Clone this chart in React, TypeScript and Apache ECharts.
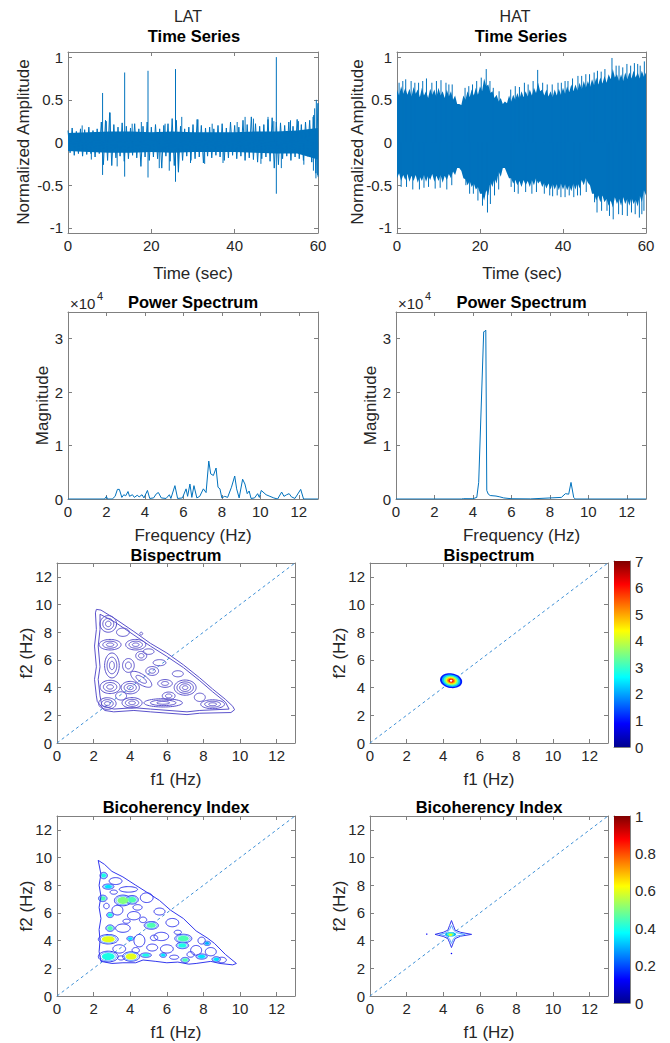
import React, { useEffect, useRef } from "react";
import * as echarts from "echarts";

const FONT = '"Liberation Sans", Arial, Helvetica, sans-serif';
const BLUE = "#0072BD";
const AXC = "#808080";
const TXT = "#262626";

// ---------- tick labels ----------
const TIME_TICKS = [0, 20, 40, 60];
const AMP_TICKS = [-1, -0.5, 0, 0.5, 1];
const FREQ_TICKS = [0, 2, 4, 6, 8, 10, 12];
const MAG_TICKS = [0, 10000, 20000, 30000];
const BIS_BAR_TICKS = [0, 1, 2, 3, 4, 5, 6, 7];
const BIC_BAR_TICKS = [0, 0.2, 0.4, 0.6, 0.8, 1];

// ---------- time series (seconds) ----------
const TS_T = [0,1,2,3,4,5,6,7,8,9,10,11,12,13,14,15,16,17,18,19,20,21,22,23,24,25,26,27,28,29,30,31,32,33,34,35,36,37,38,39,40,41,42,43,44,45,46,47,48,49,50,51,52,53,54,55,56,57,58,59,60];
const LAT_UP = [0.14,0.17,0.13,0.16,0.15,0.18,0.14,0.16,0.24,0.26,0.35,0.21,0.18,0.23,0.19,0.17,0.22,0.16,0.19,0.24,0.18,0.21,0.16,0.2,0.22,0.28,0.26,0.19,0.16,0.18,0.21,0.27,0.2,0.17,0.18,0.16,0.2,0.22,0.17,0.24,0.2,0.18,0.26,0.21,0.3,0.22,0.19,0.21,0.27,0.29,0.24,0.23,0.2,0.24,0.19,0.27,0.21,0.24,0.26,0.32,0.46];
const LAT_LO = [-0.12,-0.15,-0.13,-0.16,-0.14,-0.13,-0.17,-0.13,-0.26,-0.21,-0.27,-0.18,-0.16,-0.22,-0.19,-0.15,-0.18,-0.28,-0.17,-0.21,-0.17,-0.19,-0.3,-0.16,-0.22,-0.27,-0.34,-0.21,-0.16,-0.21,-0.19,-0.17,-0.24,-0.16,-0.18,-0.15,-0.17,-0.21,-0.18,-0.15,-0.19,-0.16,-0.21,-0.18,-0.2,-0.23,-0.19,-0.17,-0.22,-0.3,-0.26,-0.19,-0.16,-0.21,-0.17,-0.19,-0.21,-0.16,-0.23,-0.36,-0.4];
const LAT_CORE_T = [0,5,10,15,20,25,30,35,40,45,50,55,60];
const LAT_CORE_UP = [0.11,0.12,0.13,0.13,0.12,0.13,0.12,0.12,0.12,0.13,0.13,0.14,0.17];
const LAT_CORE_LO = [-0.1,-0.11,-0.12,-0.12,-0.11,-0.12,-0.11,-0.11,-0.11,-0.12,-0.13,-0.13,-0.2];
const LAT_SPIKES = [[8.3,0.58],[8.3,-0.38],[13.6,0.82],[13.6,-0.4],[19.2,0.84],[19.2,-0.41],[25.8,0.86],[25.8,-0.46],[50.0,1.0],[50.0,-0.6],[10.1,0.35],[9.2,0.25],[11.8,-0.28],[21.9,-0.3],[24.3,-0.33],[26.5,-0.35],[27.3,0.3],[31.2,0.27],[32.8,-0.25],[42.5,0.3],[44.5,0.28],[48.0,0.3],[49.4,0.25],[51.2,-0.3],[55.3,0.25],[58.8,0.3],[58.9,-0.33],[59.2,0.4],[59.5,-0.42],[59.6,0.5],[59.9,-0.38],[3.4,0.2],[5.6,-0.2],[15.4,0.22],[17.6,0.24],[23.3,0.22],[29.4,-0.24],[34.6,0.22],[37.2,-0.24],[40.6,0.24],[46.3,-0.25],[53.4,0.26],[56.6,-0.26]];

const HAT_UP = [0.62,0.66,0.64,0.63,0.65,0.62,0.64,0.6,0.63,0.62,0.64,0.6,0.62,0.6,0.55,0.45,0.55,0.6,0.62,0.64,0.66,0.75,0.68,0.6,0.56,0.52,0.48,0.55,0.56,0.58,0.6,0.6,0.62,0.64,0.7,0.62,0.62,0.6,0.62,0.63,0.64,0.66,0.68,0.68,0.7,0.72,0.72,0.74,0.76,0.76,0.78,0.8,0.86,0.8,0.8,0.82,0.82,0.84,0.82,0.84,0.82];
const HAT_UP_MID = [0.55,0.57,0.56,0.54,0.57,0.53,0.55,0.52,0.56,0.53,0.55,0.52,0.54,0.5,0.45,0.44,0.5,0.53,0.55,0.56,0.6,0.66,0.58,0.52,0.48,0.45,0.46,0.48,0.5,0.51,0.53,0.54,0.55,0.58,0.6,0.55,0.54,0.53,0.55,0.56,0.57,0.59,0.6,0.61,0.62,0.64,0.65,0.67,0.68,0.69,0.7,0.74,0.76,0.72,0.72,0.74,0.75,0.76,0.75,0.77];
const HAT_LO = [-0.42,-0.45,-0.44,-0.46,-0.45,-0.47,-0.45,-0.46,-0.44,-0.46,-0.45,-0.47,-0.44,-0.42,-0.38,-0.3,-0.42,-0.5,-0.52,-0.55,-0.6,-0.68,-0.62,-0.52,-0.48,-0.4,-0.3,-0.42,-0.48,-0.5,-0.52,-0.5,-0.52,-0.5,-0.48,-0.52,-0.54,-0.55,-0.55,-0.56,-0.55,-0.56,-0.57,-0.55,-0.54,-0.5,-0.47,-0.6,-0.68,-0.7,-0.7,-0.74,-0.76,-0.72,-0.74,-0.72,-0.74,-0.72,-0.75,-0.7,-0.62];
const HAT_LO_MID = [-0.36,-0.38,-0.37,-0.39,-0.38,-0.4,-0.38,-0.39,-0.37,-0.39,-0.38,-0.39,-0.37,-0.34,-0.3,-0.33,-0.43,-0.45,-0.48,-0.52,-0.6,-0.56,-0.46,-0.42,-0.34,-0.3,-0.36,-0.42,-0.44,-0.45,-0.44,-0.45,-0.44,-0.42,-0.45,-0.47,-0.48,-0.48,-0.49,-0.48,-0.49,-0.5,-0.48,-0.47,-0.44,-0.42,-0.5,-0.6,-0.62,-0.62,-0.66,-0.68,-0.64,-0.66,-0.64,-0.66,-0.64,-0.67,-0.62,-0.56];
const HAT_SPIKES = [[0.5,0.7],[1.4,0.72],[2.1,0.74],[3.4,0.72],[4.3,0.7],[5.2,0.7],[6.2,0.72],[7.1,0.75],[8.4,0.7],[9.5,0.72],[10.6,0.73],[11.8,0.7],[12.5,0.68],[13.3,0.68],[16.4,0.64],[17.3,0.66],[18.2,0.68],[19.2,0.72],[20.3,0.76],[21.5,0.86],[22.4,0.72],[23.2,0.64],[24.6,0.6],[27.4,0.62],[28.5,0.66],[29.5,0.65],[30.7,0.7],[31.6,0.68],[32.8,0.72],[33.9,0.85],[35.1,0.7],[36.2,0.68],[37.4,0.68],[38.8,0.7],[39.6,0.7],[40.5,0.72],[41.2,0.72],[42.3,0.75],[43.6,0.78],[44.5,0.78],[45.5,0.8],[46.4,0.8],[47.5,0.82],[48.3,0.84],[49.2,0.83],[50.1,0.86],[51.8,0.99],[52.8,0.9],[53.5,0.9],[54.4,0.88],[55.4,0.92],[56.3,0.9],[57.2,0.93],[58.0,0.92],[58.6,0.9],[59.6,0.95],[1.0,-0.52],[2.3,-0.52],[3.8,-0.55],[5.4,-0.55],[6.5,-0.53],[7.6,-0.52],[9.2,-0.54],[10.4,-0.53],[12.0,-0.55],[13.2,-0.5],[16.6,-0.5],[17.5,-0.6],[18.4,-0.6],[19.5,-0.68],[20.6,-0.74],[21.8,-0.82],[22.5,-0.72],[23.5,-0.62],[24.5,-0.55],[27.5,-0.52],[28.3,-0.58],[29.2,-0.6],[31.0,-0.58],[32.5,-0.6],[33.6,-0.58],[35.5,-0.6],[36.8,-0.62],[37.5,-0.63],[38.6,-0.62],[39.5,-0.64],[40.5,-0.64],[41.5,-0.62],[42.6,-0.64],[43.5,-0.62],[44.2,-0.62],[45.6,-0.58],[47.6,-0.7],[48.2,-0.82],[49.3,-0.8],[50.6,-0.8],[51.2,-0.86],[52.1,-0.9],[53.4,-0.84],[54.3,-0.85],[55.5,-0.86],[56.5,-0.82],[57.4,-0.84],[58.4,-0.88],[59.0,-0.84],[59.5,-0.8]];

// ---------- power spectra ----------
const LAT_FREQ = [0,1.9,2.0,2.05,2.3,2.45,2.57,2.67,2.8,2.9,3.0,3.12,3.2,3.35,3.45,3.6,3.7,3.85,3.95,4.13,4.25,4.45,4.6,4.7,4.85,5.1,5.27,5.35,5.56,5.7,5.95,6.14,6.22,6.34,6.44,6.55,6.7,6.85,7.04,7.18,7.32,7.42,7.56,7.7,7.8,7.9,8.0,8.15,8.3,8.5,8.67,8.77,8.9,9.08,9.2,9.32,9.42,9.52,9.7,9.86,9.95,10.05,10.3,10.5,10.7,10.9,11.11,11.23,11.37,11.5,11.62,11.8,12.1,12.25,13];
const LAT_MAG = [0,0,500,0,0,500,1800,1800,300,800,600,1400,500,800,300,700,400,800,200,1600,100,200,1000,1200,200,100,800,100,2500,100,200,1900,500,2800,300,2500,200,500,1900,1200,7100,4700,4400,5800,2200,1900,200,500,300,2200,4300,1900,200,3700,2800,1000,1500,100,200,1000,300,1600,800,500,200,0,1300,500,800,1000,400,100,1800,0,0];
const HAT_FREQ = [0,3.4,3.5,4.0,4.2,4.3,4.56,4.62,4.67,4.72,4.8,4.9,5.2,5.4,5.6,6.0,7.0,8.6,8.81,8.98,9.1,9.24,9.32,13];
const HAT_MAG = [0,0,60,50,300,3100,31300,31400,31600,1600,900,650,550,400,200,50,20,300,1000,900,3100,300,0,0];

// ---------- bispectrum (f1, f2 in Hz) ----------
const BIS_LAT_OUTER = [[2.15,9.65],[2.4,9.6],[3.2,8.95],[4.2,8.05],[5.1,7.2],[6.0,6.5],[6.9,5.65],[7.8,4.7],[8.5,3.9],[9.2,3.15],[9.6,2.65],[9.7,2.4],[9.5,2.2],[7.8,2.15],[7.1,2.05],[5.1,2.25],[4.2,2.35],[3.1,2.25],[2.6,2.35],[2.2,3.0],[2.15,3.4],[2.05,4.6],[2.15,5.5],[2.05,7.0],[2.15,8.2],[2.1,9.4],[2.15,9.65]];
const BIS_LAT_INNER = [[2.35,9.3],[3.2,8.7],[4.2,7.8],[5.1,7.0],[6.0,6.25],[6.9,5.45],[7.8,4.5],[8.5,3.7],[9.2,2.95],[9.4,2.45],[7.8,2.35],[7.1,2.25],[5.1,2.45],[4.2,2.55],[3.1,2.45],[2.45,2.7],[2.35,3.4],[2.25,4.6],[2.35,5.5],[2.25,7.0],[2.35,8.2],[2.35,9.3]];
// [f1, f2, r1, r2, rings, angle]
const BIS_LAT_LOOPS = [[2.8,8.6,0.45,0.6,3,0],[2.9,7.1,0.6,0.38,3,0],[4.3,7.1,0.55,0.38,3,0],[2.9,4.05,0.55,0.48,3,0],[4.0,4.0,0.5,0.45,3,0],[2.75,2.85,0.48,0.42,3,0],[4.1,2.9,0.55,0.38,3,0],[7.0,4.0,0.6,0.55,4,0],[8.5,2.8,0.65,0.32,3,0],[5.2,5.2,0.35,0.32,2,0],[5.8,2.9,1.05,0.3,3,0],[4.6,4.6,0.75,0.32,2,-45],[3.0,5.6,0.4,0.9,3,0],[3.9,5.6,0.32,0.5,2,0],[4.6,6.3,0.3,0.32,2,0],[6.1,3.4,0.35,0.28,2,0],[5.9,4.3,0.4,0.28,2,0],[6.6,5.0,0.3,0.22,1,0],[5.6,5.8,0.35,0.22,1,0],[4.6,7.9,0.08,0.1,1,0],[3.6,8.0,0.35,0.3,1,0],[5.0,6.6,0.3,0.2,1,0],[7.8,3.3,0.3,0.3,1,0],[3.5,3.4,0.3,0.3,1,0]];
// [f1, f2, r1, r2, angle, level]
const BIS_HAT_RINGS = [[4.43,4.5,0.62,0.52,-25,0.15],[4.43,4.5,0.52,0.43,-25,0.3],[4.43,4.5,0.42,0.35,-25,0.45],[4.43,4.5,0.32,0.27,-25,0.6],[4.43,4.5,0.23,0.2,-25,0.72],[4.43,4.5,0.15,0.13,-25,0.86],[4.43,4.5,0.07,0.07,-25,-1]];

// ---------- bicoherency ----------
const BIC_LAT_OUTER = [[2.25,9.8],[2.6,9.5],[3.0,9.0],[3.6,8.6],[4.3,8.0],[4.9,7.5],[5.6,6.9],[6.2,6.2],[6.9,5.6],[7.6,4.7],[8.2,4.2],[8.6,3.8],[9.2,3.0],[9.8,2.35],[9.6,2.25],[8.9,2.35],[8.4,2.5],[7.6,2.35],[7.2,2.3],[6.6,2.45],[6.0,2.4],[5.4,2.5],[4.7,2.6],[4.3,2.4],[3.6,2.4],[3.0,2.35],[2.4,2.5],[2.3,3.2],[2.35,4.0],[2.3,4.8],[2.4,5.6],[2.3,6.4],[2.4,7.2],[2.3,8.0],[2.4,8.8],[2.25,9.8]];
const BIC_LAT_LOOPS = [[3.2,8.3,0.35,0.25,0,0],[3.9,7.7,0.5,0.2,0,0],[4.9,7.1,0.35,0.35,0,0],[3.3,6.2,0.3,0.35,0,0],[4.2,5.8,0.35,0.3,0,0],[5.6,6.1,0.3,0.25,0,0],[6.3,5.3,0.35,0.3,0,0],[3.6,4.9,0.4,0.3,0,0],[4.5,4.0,0.3,0.45,0,0],[5.7,4.3,0.4,0.3,0,0],[6.0,3.4,0.35,0.3,0,0],[3.4,3.4,0.35,0.3,0,0],[5.2,3.5,0.3,0.25,0,0],[7.6,3.3,0.3,0.35,0,0],[8.4,3.2,0.3,0.3,0,0],[9.0,2.6,0.25,0.2,0,0],[7.9,4.0,0.2,0.25,0,0],[3.8,5.4,0.2,0.15,0,0],[4.7,5.5,0.2,0.2,0,0],[3.1,7.5,0.2,0.15,0,0],[5.3,4.2,0.2,0.2,0,0],[6.6,4.6,0.2,0.15,0,0],[4.3,3.3,0.2,0.2,0,0],[3.5,2.75,0.2,0.15,0,0],[6.4,2.8,0.25,0.15,0,0],[7.3,3.0,0.2,0.2,0,0],[2.7,6.5,0.15,0.2,0,0],[4.4,6.4,0.25,0.2,0,0]];
const BIC_LAT_BLOBS = [[2.55,8.7,0.13,0.15,0,0.4],[2.8,7.9,0.2,0.12,0,0.35],[2.5,7.05,0.15,0.15,0,0.45],[3.6,6.9,0.3,0.25,0,0.5],[4.1,6.95,0.22,0.2,0,0.45],[2.9,5.85,0.12,0.12,0,0.4],[2.9,4.9,0.15,0.15,0,0.45],[2.8,4.1,0.35,0.22,0,0.6],[4.0,4.15,0.12,0.1,0,0.35],[2.8,2.85,0.35,0.25,0,0.4],[4.05,2.85,0.3,0.22,0,0.6],[4.85,2.95,0.2,0.1,0,0.4],[5.8,2.95,0.12,0.1,0,0.35],[5.15,5.1,0.25,0.18,0,0.45],[6.9,4.15,0.3,0.2,0,0.45],[6.85,3.65,0.22,0.15,0,0.4],[7.0,2.6,0.15,0.12,0,0.45],[7.9,2.85,0.2,0.12,0,0.35],[8.7,2.65,0.15,0.12,0,0.35],[8.2,3.8,0.12,0.1,0,0.3]];
const BIC_HAT_STAR = [[3.55,4.45],[4.0,4.6],[4.25,4.75],[4.35,5.1],[4.45,5.45],[4.55,5.1],[4.65,4.75],[4.95,4.6],[5.55,4.45],[4.95,4.32],[4.65,4.15],[4.55,3.85],[4.45,3.5],[4.35,3.85],[4.25,4.15],[4.0,4.3],[3.55,4.45]];
const BIC_HAT_STAR_IN = [[3.8,4.45],[4.2,4.58],[4.35,4.8],[4.45,5.1],[4.55,4.8],[4.7,4.58],[5.2,4.45],[4.7,4.32],[4.55,4.1],[4.45,3.8],[4.35,4.1],[4.2,4.32],[3.8,4.45]];
const BIC_HAT_BLOBS = [[4.4,4.45,0.3,0.16,0,0.3],[4.4,4.45,0.2,0.12,0,0.45],[4.4,4.42,0.1,0.08,0,0.6],[3.1,4.47,0.04,0.05,0,0.12],[4.45,3.07,0.04,0.05,0,0.12]];

const DIAG = [[0, 0], [13, 13]];

// ---------- layout ----------
const GRIDS = [
  { left: 68, top: 52, width: 250, height: 181 },
  { left: 397, top: 52, width: 249, height: 181 },
  { left: 68, top: 312, width: 250, height: 187 },
  { left: 396, top: 312, width: 250, height: 187 },
  { left: 57, top: 563, width: 238, height: 180 },
  { left: 370, top: 563, width: 238, height: 180 },
  { left: 57, top: 816, width: 238, height: 180 },
  { left: 370, top: 816, width: 238, height: 180 },
  { left: 614, top: 561, width: 16, height: 186 },
  { left: 614, top: 816, width: 16, height: 187 },
];

function jet(v: number) {
  const c = (x: number) => Math.max(0, Math.min(1, x));
  const r = c(1.5 - Math.abs(4 * v - 3));
  const g = c(1.5 - Math.abs(4 * v - 2));
  const b = c(1.5 - Math.abs(4 * v - 1));
  return `rgb(${Math.round(r * 255)},${Math.round(g * 255)},${Math.round(b * 255)})`;
}

function axis(gi: number, min: number, max: number, ticks: number[], position: string, label: boolean, fmt?: (v: number) => string, showTicks = true) {
  return {
    type: "value", gridIndex: gi, min, max, position,
    axisLine: { show: true, onZero: false, lineStyle: { color: AXC, width: 1 } },
    axisTick: { show: showTicks, inside: true, length: 4, customValues: ticks, lineStyle: { color: AXC, width: 1 } },
    axisLabel: { show: label, customValues: ticks, formatter: fmt || ((v: number) => String(v)), color: TXT, fontSize: 15, fontFamily: FONT, margin: 5 },
    splitLine: { show: false },
  };
}

function ellipseRender(mode: "fill" | "stroke", color?: string, lw = 1) {
  return (_p: any, api: any) => {
    const cx = api.value(0), cy = api.value(1), rx = api.value(2), ry = api.value(3);
    const a = (api.value(4) * Math.PI) / 180, lev = api.value(5);
    const pts: number[][] = [];
    for (let k = 0; k <= 48; k++) {
      const th = (k / 48) * 2 * Math.PI;
      const dx = rx * Math.cos(th), dy = ry * Math.sin(th);
      pts.push(api.coord([cx + dx * Math.cos(a) - dy * Math.sin(a), cy + dx * Math.sin(a) + dy * Math.cos(a)]));
    }
    const col = color || (lev < 0 ? "#ffffff" : jet(lev));
    return mode === "fill"
      ? { type: "polygon", shape: { points: pts }, style: { fill: col } }
      : { type: "polyline", shape: { points: pts }, style: { fill: "none", stroke: col, lineWidth: lw } };
  };
}

function txt(text: string, x: number, y: number, size: number, bold = false, rot = 0, align = "center") {
  return {
    type: "text", x, y, rotation: rot, silent: true,
    style: { text, font: `${bold ? "bold " : ""}${size}px ${FONT}`, fill: bold ? "#000" : TXT, textAlign: align, textVerticalAlign: "middle" },
  };
}

function buildOption() {
  const xAxis: any[] = [];
  const yAxis: any[] = [];
  const mag = (v: number) => String(v / 10000);
  const specs = [
    { x: [0, 60, TIME_TICKS], y: [-1.06, 1.06, AMP_TICKS] },
    { x: [0, 60, TIME_TICKS], y: [-1.06, 1.06, AMP_TICKS] },
    { x: [0, 13, FREQ_TICKS], y: [0, 35000, MAG_TICKS], yf: mag },
    { x: [0, 13, FREQ_TICKS], y: [0, 35000, MAG_TICKS], yf: mag },
    { x: [0, 13, FREQ_TICKS], y: [0, 13, FREQ_TICKS] },
    { x: [0, 13, FREQ_TICKS], y: [0, 13, FREQ_TICKS] },
    { x: [0, 13, FREQ_TICKS], y: [0, 13, FREQ_TICKS] },
    { x: [0, 13, FREQ_TICKS], y: [0, 13, FREQ_TICKS] },
  ];
  specs.forEach((s: any, g) => {
    xAxis.push(axis(g, s.x[0], s.x[1], s.x[2], "bottom", true));
    xAxis.push(axis(g, s.x[0], s.x[1], s.x[2], "top", false));
    yAxis.push(axis(g, s.y[0], s.y[1], s.y[2], "left", true, s.yf));
    yAxis.push(axis(g, s.y[0], s.y[1], s.y[2], "right", false));
  });
  const bars = [
    { g: 8, max: 7, ticks: BIS_BAR_TICKS },
    { g: 9, max: 1, ticks: BIC_BAR_TICKS },
  ];
  bars.forEach((b) => {
    xAxis.push(axis(b.g, 0, 1, [], "bottom", false, undefined, false));
    xAxis.push(axis(b.g, 0, 1, [], "top", false, undefined, false));
    yAxis.push(axis(b.g, 0, b.max, b.ticks, "left", false, undefined, false));
    yAxis.push(axis(b.g, 0, b.max, b.ticks, "right", true, undefined, false));
  });

  const on = (g: number) => ({ xAxisIndex: 2 * g, yAxisIndex: 2 * g });
  const series: any[] = [];

  // ---- time series ----
  const latCore = [
    ...LAT_CORE_T.map((t, i) => [t, LAT_CORE_UP[i]]),
    ...LAT_CORE_T.map((t, i) => [t, LAT_CORE_LO[i]]).reverse(),
  ];
  series.push({
    type: "custom", ...on(0), silent: true, data: [[0, 0]],
    renderItem: (_p: any, api: any) => ({ type: "polygon", shape: { points: latCore.map((p) => api.coord(p)) }, style: { fill: BLUE } }),
  });
  const latZig: number[][] = [];
  TS_T.forEach((t, i) => {
    latZig.push([t, LAT_UP[i]]);
    latZig.push([i < TS_T.length - 1 ? t + 0.5 : t, LAT_LO[i]]);
  });
  series.push({ type: "line", ...on(0), data: latZig, showSymbol: false, symbol: "none", silent: true, lineStyle: { color: BLUE, width: 1 } });
  const spikeRender = (_p: any, api: any) => {
    const a = api.coord([api.value(0), 0]);
    const b = api.coord([api.value(0), api.value(1)]);
    return { type: "line", shape: { x1: a[0], y1: a[1], x2: b[0], y2: b[1] }, style: { stroke: BLUE, lineWidth: 1 } };
  };
  series.push({ type: "custom", ...on(0), silent: true, data: LAT_SPIKES, renderItem: spikeRender });

  const hatTop: number[][] = [];
  const hatBot: number[][] = [];
  TS_T.forEach((t, i) => {
    hatTop.push([t, HAT_UP[i]]);
    hatBot.push([t, HAT_LO[i]]);
    if (i < TS_T.length - 1) {
      hatTop.push([t + 0.5, HAT_UP_MID[i]]);
      hatBot.push([t + 0.5, HAT_LO_MID[i]]);
    }
  });
  const hatBand = [...hatTop, ...hatBot.reverse()];
  series.push({
    type: "custom", ...on(1), silent: true, data: [[0, 0]],
    renderItem: (_p: any, api: any) => ({ type: "polygon", shape: { points: hatBand.map((p) => api.coord(p)) }, style: { fill: BLUE } }),
  });
  series.push({ type: "custom", ...on(1), silent: true, data: HAT_SPIKES, renderItem: spikeRender });

  // ---- power spectra ----
  series.push({ type: "line", ...on(2), data: LAT_FREQ.map((f, i) => [f, LAT_MAG[i]]), showSymbol: false, symbol: "none", silent: true, lineStyle: { color: BLUE, width: 1 } });
  series.push({ type: "line", ...on(3), data: HAT_FREQ.map((f, i) => [f, HAT_MAG[i]]), showSymbol: false, symbol: "none", silent: true, lineStyle: { color: BLUE, width: 1 } });

  // ---- bispectrum LAT ----
  const PURPLE = "#5b52cc";
  series.push({ type: "line", ...on(4), data: BIS_LAT_OUTER, showSymbol: false, symbol: "none", silent: true, lineStyle: { color: PURPLE, width: 1 } });
  series.push({ type: "line", ...on(4), data: BIS_LAT_INNER, showSymbol: false, symbol: "none", silent: true, lineStyle: { color: PURPLE, width: 1 } });
  const bisRings: number[][] = [];
  BIS_LAT_LOOPS.forEach(([cx, cy, rx, ry, n, ang]) => {
    for (let k = 0; k < n; k++) {
      const s = (n - k) / n;
      bisRings.push([cx, cy, rx * s, ry * s, ang, 0]);
    }
  });
  series.push({ type: "custom", ...on(4), silent: true, data: bisRings, encode: { x: 0, y: 1 }, renderItem: ellipseRender("stroke", PURPLE, 1) });

  // ---- bispectrum HAT ----
  series.push({ type: "custom", ...on(5), silent: true, data: BIS_HAT_RINGS, encode: { x: 0, y: 1 }, renderItem: ellipseRender("fill") });

  // ---- bicoherency LAT ----
  const BC = "#3338ee";
  const BC2 = "#5aa6ff";
  series.push({ type: "line", ...on(6), data: BIC_LAT_OUTER, showSymbol: false, symbol: "none", silent: true, lineStyle: { color: BC, width: 1 } });
  series.push({ type: "custom", ...on(6), silent: true, data: BIC_LAT_LOOPS, encode: { x: 0, y: 1 }, renderItem: ellipseRender("stroke", BC, 1) });
  const bicOuterRings = BIC_LAT_BLOBS.map(([cx, cy, rx, ry, a]) => [cx, cy, rx * 1.55, ry * 1.55, a, 0]);
  const bicMidRings = BIC_LAT_BLOBS.map(([cx, cy, rx, ry, a]) => [cx, cy, rx * 1.25, ry * 1.25, a, 0]);
  series.push({ type: "custom", ...on(6), silent: true, data: bicOuterRings, encode: { x: 0, y: 1 }, renderItem: ellipseRender("stroke", BC, 1) });
  series.push({ type: "custom", ...on(6), silent: true, data: bicMidRings, encode: { x: 0, y: 1 }, renderItem: ellipseRender("stroke", BC2, 1) });
  series.push({ type: "custom", ...on(6), silent: true, data: BIC_LAT_BLOBS, encode: { x: 0, y: 1 }, renderItem: ellipseRender("fill") });

  // ---- bicoherency HAT ----
  series.push({ type: "line", ...on(7), data: BIC_HAT_STAR, showSymbol: false, symbol: "none", silent: true, lineStyle: { color: BC, width: 1 } });
  series.push({ type: "line", ...on(7), data: BIC_HAT_STAR_IN, showSymbol: false, symbol: "none", silent: true, lineStyle: { color: BC2, width: 1 } });
  series.push({ type: "custom", ...on(7), silent: true, data: BIC_HAT_BLOBS, encode: { x: 0, y: 1 }, renderItem: ellipseRender("fill") });

  // ---- diagonals ----
  [4, 5, 6, 7].forEach((g) => {
    series.push({ type: "line", ...on(g), data: DIAG, showSymbol: false, symbol: "none", silent: true, z: 1, lineStyle: { color: "#3d8fd6", width: 1, type: [3, 3] } });
  });

  // ---- colorbars ----
  bars.forEach((b) => {
    series.push({
      type: "custom", ...on(b.g), silent: true, data: [[0, 0]],
      renderItem: (_p: any, api: any) => {
        const tl = api.coord([0, b.max]);
        const br = api.coord([1, 0]);
        return {
          type: "rect",
          shape: { x: tl[0], y: tl[1], width: br[0] - tl[0], height: br[1] - tl[1] },
          style: {
            fill: new echarts.graphic.LinearGradient(0, 0, 0, 1, [
              { offset: 0, color: "#800000" },
              { offset: 0.125, color: "#ff0000" },
              { offset: 0.375, color: "#ffff00" },
              { offset: 0.625, color: "#00ffff" },
              { offset: 0.875, color: "#0000ff" },
              { offset: 1, color: "#00008f" },
            ]),
          },
        };
      },
    });
  });

  const R = Math.PI / 2;
  const graphic = [
    txt("LAT", 188, 16, 16),
    txt("HAT", 515, 16, 16),
    txt("Time Series", 194, 36, 16.5, true),
    txt("Time Series", 521, 36, 16.5, true),
    txt("Normalized Amplitude", 23, 142, 17, false, R),
    txt("Normalized Amplitude", 357, 142, 17, false, R),
    txt("Time (sec)", 193, 273, 17),
    txt("Time (sec)", 522, 273, 17),
    txt("\u00d710", 70, 303, 15, false, 0, "left"),
    txt("4", 97, 296, 11, false, 0, "left"),
    txt("\u00d710", 398, 303, 15, false, 0, "left"),
    txt("4", 425, 296, 11, false, 0, "left"),
    txt("Power Spectrum", 193, 301.5, 16.5, true),
    txt("Power Spectrum", 521.5, 301.5, 16.5, true),
    txt("Magnitude", 42.5, 405.5, 17, false, R),
    txt("Magnitude", 370.5, 405.5, 17, false, R),
    txt("Frequency (Hz)", 193, 535.5, 17),
    txt("Frequency (Hz)", 521.5, 535.5, 17),
    txt("Bispectrum", 176, 555, 16.5, true),
    txt("Bispectrum", 489, 555, 16.5, true),
    txt("f2 (Hz)", 26, 653, 17, false, R),
    txt("f2 (Hz)", 339, 653, 17, false, R),
    txt("f1 (Hz)", 176, 779, 17),
    txt("f1 (Hz)", 489, 779, 17),
    txt("Bicoherency Index", 176, 807, 16.5, true),
    txt("Bicoherency Index", 489, 807, 16.5, true),
    txt("f2 (Hz)", 26, 906, 17, false, R),
    txt("f2 (Hz)", 339, 906, 17, false, R),
    txt("f1 (Hz)", 176, 1032, 17),
    txt("f1 (Hz)", 489, 1032, 17),
  ];

  return {
    animation: false,
    backgroundColor: "#ffffff",
    textStyle: { fontFamily: FONT },
    grid: GRIDS.map((g) => ({ ...g, containLabel: false, show: false })),
    xAxis,
    yAxis,
    series,
    graphic,
  };
}

export default function App() {
  const ref = useRef<HTMLDivElement>(null);
  useEffect(() => {
    if (!ref.current) return;
    const chart = echarts.init(ref.current, undefined, { renderer: "svg" });
    chart.setOption(buildOption() as any);
    return () => chart.dispose();
  }, []);
  return <div ref={ref} style={{ position: "absolute", left: 0, top: 0, width: 670, height: 1043, background: "#fff" }} />;
}
